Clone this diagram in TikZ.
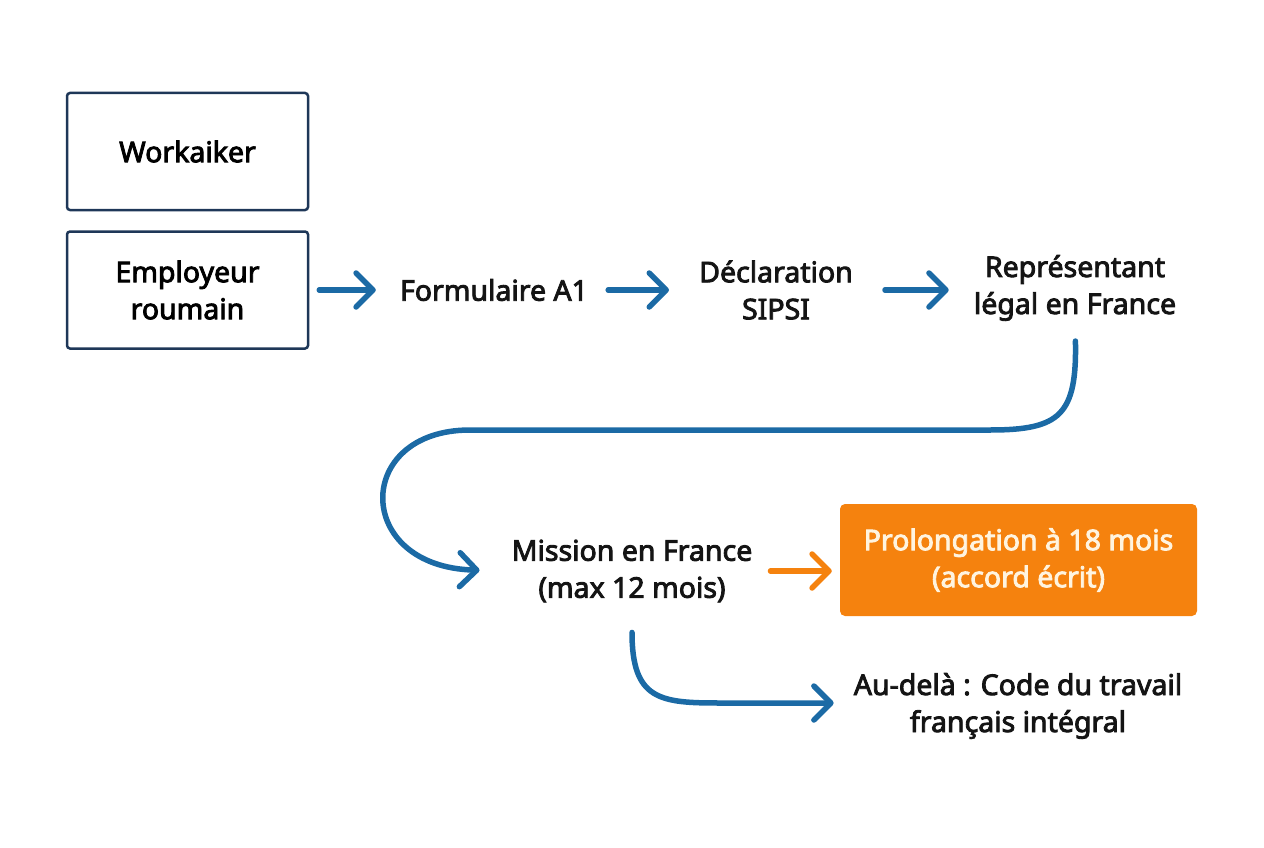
\documentclass[tikz,border=0pt]{standalone}
\usepackage{fontspec}
\setmainfont{Noto Sans}[RawFeature={embolden=3}]
\usetikzlibrary{positioning,arrows.meta}
\definecolor{navy}{RGB}{30,55,88}
\definecolor{flowblue}{RGB}{27,106,165}
\definecolor{prolorange}{RGB}{245,130,14}
\definecolor{cream}{RGB}{255,244,224}
\tikzset{
  box/.style={draw=navy,line width=2.5pt,rounded corners=3pt,minimum width=241pt,minimum height=117pt,align=center},
  lbl/.style={align=center,inner sep=0pt,text=black!92},
  hbox/.style={fill=prolorange,rounded corners=5pt,minimum width=357pt,minimum height=112pt,align=center,text=cream},
  flow/.style={flowblue,line width=5.5pt,line cap=round,-{Straight Barb[length=17pt,width=34pt,line cap=round,line join=round]}},
  oflow/.style={flow,prolorange},
  every node/.style={font=\fontsize{28.5}{37}\selectfont}
}
\begin{document}
\begin{tikzpicture}[x=1pt,y=-1pt]
  \useasboundingbox (0,0) rectangle (1264,848);
  \node[box] (work) at (187.5,151.5) {Workaiker};
  \node[box] (emp) at (187.5,290) {Employeur\\roumain};
  \node[lbl] (form) at (494,290) {Formulaire A1};
  \node[lbl] (sipsi) at (776,290) {Déclaration\\SIPSI};
  \node[lbl] (rep) at (1075,288) {Représentant\\légal en France};
  \node[lbl] (miss) at (632,571) {Mission en France\\(max 12 mois)};
  \node[hbox] (prol) at (1018.5,560) {Prolongation à 18 mois\\(accord écrit)};
  \node[lbl] (beyond) at (1018,706) {Au-delà : Code du travail\\français intégral};
  \coordinate (bendR) at (990,430); \coordinate (bendL) at (470,430); \coordinate (bendB) at (720,703);
  % main row
  \draw[flow,shorten <=10pt,shorten >=24pt] (emp.east) -- (form.west);
  \draw[flow,shorten <=20pt,shorten >=30pt] (form.east) -- (form.east -| sipsi.west);
  \draw[flow,shorten <=32pt,shorten >=25pt] (sipsi.east) -- (sipsi.east -| rep.west);
  % turn back to the mission
  \draw[flow,shorten <=20pt,shorten >=32pt] (rep.south) .. controls (1077,415) and (1060,430) .. (bendR) -- (bendL)
    .. controls (353,430) and (353,567) .. (miss.west);
  \draw[oflow,shorten <=18pt,shorten >=8pt] (miss.east) -- (miss.east -| prol.west);
  \draw[flow,shorten <=30pt,shorten >=20pt] (miss.south) .. controls (632,700) and (660,703) .. (bendB) -- (bendB -| beyond.west);
\end{tikzpicture}
\end{document}
